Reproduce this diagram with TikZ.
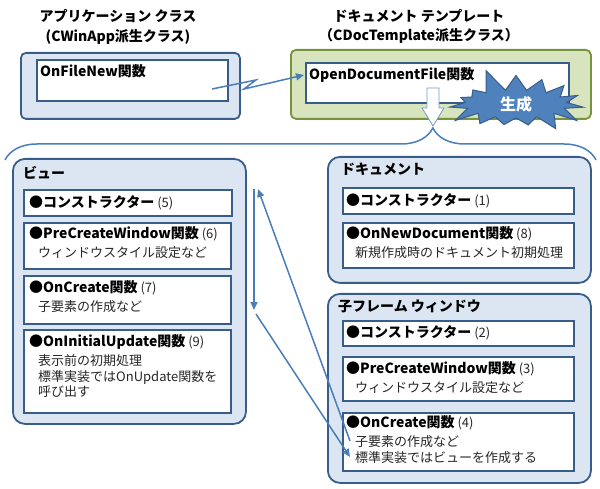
\documentclass[tikz,border=0pt]{standalone}
\usepackage{fontspec}
\setmainfont{Noto Sans CJK JP}
\usetikzlibrary{arrows.meta,positioning,shapes.symbols,decorations.pathreplacing}
\definecolor{bleu}{HTML}{385D8A}
\definecolor{bleuclair}{HTML}{DCE6F2}
\definecolor{fleche}{HTML}{4A7EBB}
\definecolor{eclat}{HTML}{4F81BD}
\definecolor{vert}{HTML}{77933C}
\definecolor{vertclair}{HTML}{D7E4BD}
\definecolor{texte}{HTML}{262626}
\newcommand\hdb{\fontsize{14}{17}\selectfont\bfseries\color{black}}

\begin{document}
\begin{tikzpicture}[x=1pt,y=-1pt,
  grp/.style={draw=bleu,line width=1.8pt,fill=bleuclair,rounded corners=12pt,anchor=north west,inner sep=0pt},
  box/.style={draw=bleu,line width=1.6pt,fill=white,anchor=north west,inner sep=0pt},
  hd/.style={font=\hdb,anchor=north west,inner sep=0pt},
  txt/.style={font=\fontsize{13}{15.5}\selectfont,text=texte,align=left,anchor=north west,inner sep=0pt},
  burst/.style={starburst,starburst points=15,starburst point height=24pt,random starburst=5,draw=bleu,line width=1pt,fill=eclat,text=white,font=\fontsize{16}{18}\selectfont\bfseries,minimum width=150pt,minimum height=60pt,inner sep=2pt},
  flow/.style={-{Triangle[length=8pt,width=7pt]},draw=fleche,line width=1.5pt}]
  \useasboundingbox (0,0) rectangle (600,489);
  % Titres
  \node[hd,anchor=center,align=center,font=\fontsize{14}{20}\selectfont\bfseries] (tapp) at (118,27) {アプリケーション クラス\\(CWinApp派生クラス)};
  \node[hd,anchor=center,align=center,font=\fontsize{14}{19}\selectfont\bfseries] (ttpl) at (419,26) {ドキュメント テンプレート\\（CDocTemplate派生クラス）};
  % Application
  \node[grp,rounded corners=5pt,minimum width=219pt,minimum height=66pt] (app) at (20,52) {};
  \node[box,minimum width=191pt,minimum height=41pt] (fnew) at (36,59) {};
  \node[hd] (fnewt) at (40,64) {OnFileNew関数};
  % Template
  \node[grp,draw=vert,fill=vertclair,rounded corners=5pt,minimum width=300pt,minimum height=69pt] (tpl) at (290,49) {};
  \node[box,minimum width=263pt,minimum height=40pt] (odf) at (305,62) {};
  \node[hd] (odft) at (309,67) {OpenDocumentFile関数};
  % Eclair
  \coordinate (zs) at (212,89);
  \coordinate (z1) at (256,80);
  \coordinate (z2) at (244,89);
  \coordinate (ze) at (304,75);
  \draw[flow] (zs) -- (z1) -- (z2) -- (ze);
  % Fleche bloc + generation
  \draw[draw=eclat!80,fill=white,line width=0.8pt] (427,88) -- (439,88) -- (439,108) -- (444,108) -- (433,126) -- (422,108) -- (427,108) -- cycle;
  \node[burst] (gen) at (516,104) {生成};
  \draw[decorate,decoration={brace,amplitude=32pt,aspect=0.724},draw=fleche,line width=1.5pt] (5,160) -- (596,160);
  % Vue
  \node[grp,minimum width=233pt,minimum height=265pt] (view) at (12,158) {};
  \node[hd] (viewt) at (23,166) {ビュー};
  \node[box,minimum width=208pt,minimum height=26pt] (v1) at (23,189) {};
  \node[txt] (v1t) at (29,195) {{\hdb ●コンストラクター} (5)};
  \node[box,minimum width=207pt,minimum height=46pt] (v2) at (23,222) {};
  \node[txt] (v2t) at (29,226) {{\hdb ●PreCreateWindow関数} (6)\\[4pt]\hspace*{9pt}ウィンドウスタイル設定など};
  \node[box,minimum width=207pt,minimum height=48pt] (v3) at (23,275) {};
  \node[txt] (v3t) at (29,280) {{\hdb ●OnCreate関数} (7)\\[4pt]\hspace*{9pt}子要素の作成など};
  \node[box,minimum width=207pt,minimum height=83pt] (v4) at (23,329) {};
  \node[txt] (v4t) at (29,334) {{\hdb ●OnInitialUpdate関数} (9)\\[4pt]\hspace*{9pt}表示前の初期処理\\\hspace*{9pt}標準実装ではOnUpdate関数を\\\hspace*{9pt}呼び出す};
  % Document
  \node[grp,minimum width=263pt,minimum height=126pt] (doc) at (327,156) {};
  \node[hd] (doct) at (341,163) {ドキュメント};
  \node[box,minimum width=231pt,minimum height=26pt] (d1) at (342,187) {};
  \node[txt] (d1t) at (346,193) {{\hdb ●コンストラクター} (1)};
  \node[box,minimum width=231pt,minimum height=45pt] (d2) at (342,222) {};
  \node[txt] (d2t) at (346,226) {{\hdb ●OnNewDocument関数} (8)\\[4pt]\hspace*{9pt}新規作成時のドキュメント初期処理};
  % Fenetre cadre enfant
  \node[grp,minimum width=263pt,minimum height=189pt] (cf) at (327,293) {};
  \node[hd] (cft) at (338,300) {子フレーム ウィンドウ};
  \node[box,minimum width=231pt,minimum height=25pt] (c1) at (342,320) {};
  \node[txt] (c1t) at (346,325) {{\hdb ●コンストラクター} (2)};
  \node[box,minimum width=231pt,minimum height=44pt] (c2) at (342,356) {};
  \node[txt] (c2t) at (346,361) {{\hdb ●PreCreateWindow関数} (3)\\[4pt]\hspace*{9pt}ウィンドウスタイル設定など};
  \node[box,minimum width=231pt,minimum height=58pt] (c3) at (342,412) {};
  \node[txt] (c3t) at (346,415) {{\hdb ●OnCreate関数} (4)\\[4pt]\hspace*{9pt}子要素の作成など\\\hspace*{9pt}標準実装ではビューを作成する};
  % Ordre d'appel
  \coordinate (a1s) at (350,441);
  \coordinate (a1e) at (258,189);
  \coordinate (a2s) at (254,189);
  \coordinate (a2e) at (254,310);
  \coordinate (a3s) at (256,314);
  \coordinate (a3e) at (350,457);
  \draw[flow] (a1s) -- (a1e);
  \draw[flow] (a2s) -- (a2e);
  \draw[flow] (a3s) -- (a3e);
\end{tikzpicture}
\end{document}
